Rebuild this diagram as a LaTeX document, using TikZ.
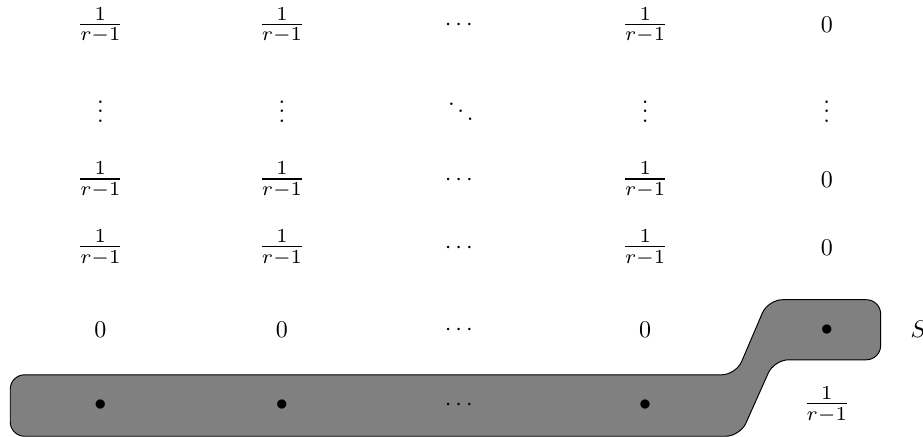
\documentclass[tikz,border=0pt]{standalone}
\usepackage{amsmath,amssymb}
\usepackage{tikz}
\newcommand{\rinv}{\frac{1}{r-1}}

\begin{document}
\begin{tikzpicture}[
  entry/.style={inner sep=2pt},
  fracentry/.style={entry, scale=1.18, transform shape},
  blob/.style={draw, thin, fill=gray, rounded corners=6pt}]
  \useasboundingbox (0,0) rectangle (13.52,-6.40);
  % shaded region behind the bullets
  \draw[blob] (5,-6.39) -- (0.15,-6.39) -- (0.15,-5.49) -- (10.78,-5.49) -- (11.25,-4.39)
    -- (12.90,-4.39) -- (12.90,-5.27) -- (11.34,-5.27) -- (10.84,-6.39) -- cycle;
  \node[fracentry] (m11) at (1.47,-0.37)  {$\rinv$};
  \node[fracentry] (m12) at (4.13,-0.37)  {$\rinv$};
  \node[entry]     (m13) at (6.75,-0.37)  {$\cdots$};
  \node[fracentry] (m14) at (9.45,-0.37)  {$\rinv$};
  \node[entry]     (m15) at (12.11,-0.37) {$0$};
  \node[entry]     (m21) at (1.47,-1.53)  {$\vdots$};
  \node[entry]     (m22) at (4.13,-1.53)  {$\vdots$};
  \node[entry]     (m23) at (6.75,-1.53)  {$\ddots$};
  \node[entry]     (m24) at (9.45,-1.53)  {$\vdots$};
  \node[entry]     (m25) at (12.11,-1.53) {$\vdots$};
  \node[fracentry] (m31) at (1.47,-2.64)  {$\rinv$};
  \node[fracentry] (m32) at (4.13,-2.64)  {$\rinv$};
  \node[entry]     (m33) at (6.75,-2.64)  {$\cdots$};
  \node[fracentry] (m34) at (9.45,-2.64)  {$\rinv$};
  \node[entry]     (m35) at (12.11,-2.64) {$0$};
  \node[fracentry] (m41) at (1.47,-3.63)  {$\rinv$};
  \node[fracentry] (m42) at (4.13,-3.63)  {$\rinv$};
  \node[entry]     (m43) at (6.75,-3.63)  {$\cdots$};
  \node[fracentry] (m44) at (9.45,-3.63)  {$\rinv$};
  \node[entry]     (m45) at (12.11,-3.63) {$0$};
  \node[entry]     (m51) at (1.47,-4.83)  {$0$};
  \node[entry]     (m52) at (4.13,-4.83)  {$0$};
  \node[entry]     (m53) at (6.75,-4.83)  {$\cdots$};
  \node[entry]     (m54) at (9.45,-4.83)  {$0$};
  \node[entry]     (m55) at (12.11,-4.83) {$\bullet$};
  \node[entry]     (m61) at (1.47,-5.93)  {$\bullet$};
  \node[entry]     (m62) at (4.13,-5.93)  {$\bullet$};
  \node[entry]     (m63) at (6.75,-5.93)  {$\cdots$};
  \node[entry]     (m64) at (9.45,-5.93)  {$\bullet$};
  \node[fracentry] (m65) at (12.11,-5.93) {$\rinv$};
  \node[entry, anchor=west] (setS) at (13.26,-4.83) {$S$};
\end{tikzpicture}
\end{document}
